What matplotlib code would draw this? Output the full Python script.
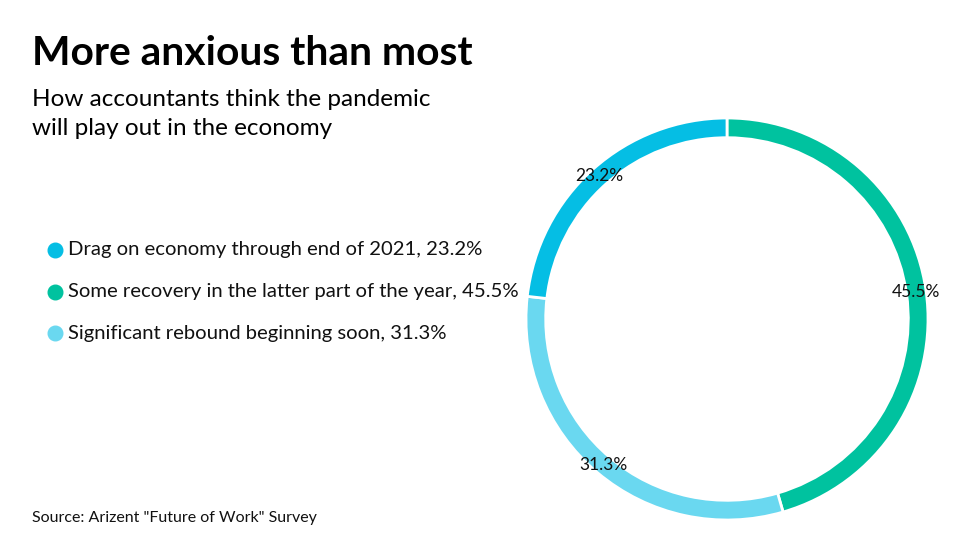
import matplotlib.pyplot as plt
from matplotlib.lines import Line2D

plt.rcParams['font.family'] = ['Lato', 'DejaVu Sans']

title = 'More anxious than most'
subtitle = 'How accountants think the pandemic\nwill play out in the economy'
source = 'Source: Arizent "Future of Work" Survey'

# legend order
legend_labels = ['Drag on economy through end of 2021',
                 'Some recovery in the latter part of the year',
                 'Significant rebound beginning soon']
legend_values = [23.2, 45.5, 31.3]
legend_colors = ['#05bee4', '#00c29f', '#6ad8f0']

# ring order, clockwise from top
ring_order = [1, 2, 0]
ring_values = [legend_values[i] for i in ring_order]
ring_colors = [legend_colors[i] for i in ring_order]

fig = plt.figure(figsize=(9.78, 5.5), dpi=100)

cx, cy, r = 727, 319, 201
ax = fig.add_axes([(cx - r) / 978, (550 - cy - r) / 550, 2 * r / 978, 2 * r / 550])
wedges, texts, autotexts = ax.pie(ring_values, colors=ring_colors, startangle=90,
                                  counterclock=False, radius=1,
                                  autopct='%.1f%%', pctdistance=0.952,
                                  wedgeprops=dict(width=0.098, edgecolor='white', linewidth=2),
                                  textprops=dict(fontsize=12.5, color='#111111'))
ax.set_xlim(-1, 1)
ax.set_ylim(-1, 1)
ax.set_aspect('equal')
ax.axis('off')

fig.text(32 / 978, 1 - 35 / 550, title, fontsize=29.3, fontweight='bold', va='top', ha='left', color='black')
fig.text(32 / 978, 1 - 89 / 550, subtitle, fontsize=17.5, va='top', ha='left', color='black', linespacing=1.45)

row_y = [250, 292, 333]
for i in range(len(legend_labels)):
    y = 1 - row_y[i] / 550
    fig.add_artist(Line2D([55 / 978], [y], marker='o', markersize=10.5, color=legend_colors[i],
                          linestyle='none', transform=fig.transFigure))
    fig.text(68 / 978, y, f'{legend_labels[i]}, {legend_values[i]}%', fontsize=14.6,
             va='center', ha='left', color='#111111')

fig.text(32 / 978, 1 - 518 / 550, source, fontsize=11.5, va='center', ha='left', color='#111111')

fig.savefig('out.png', dpi=100)
